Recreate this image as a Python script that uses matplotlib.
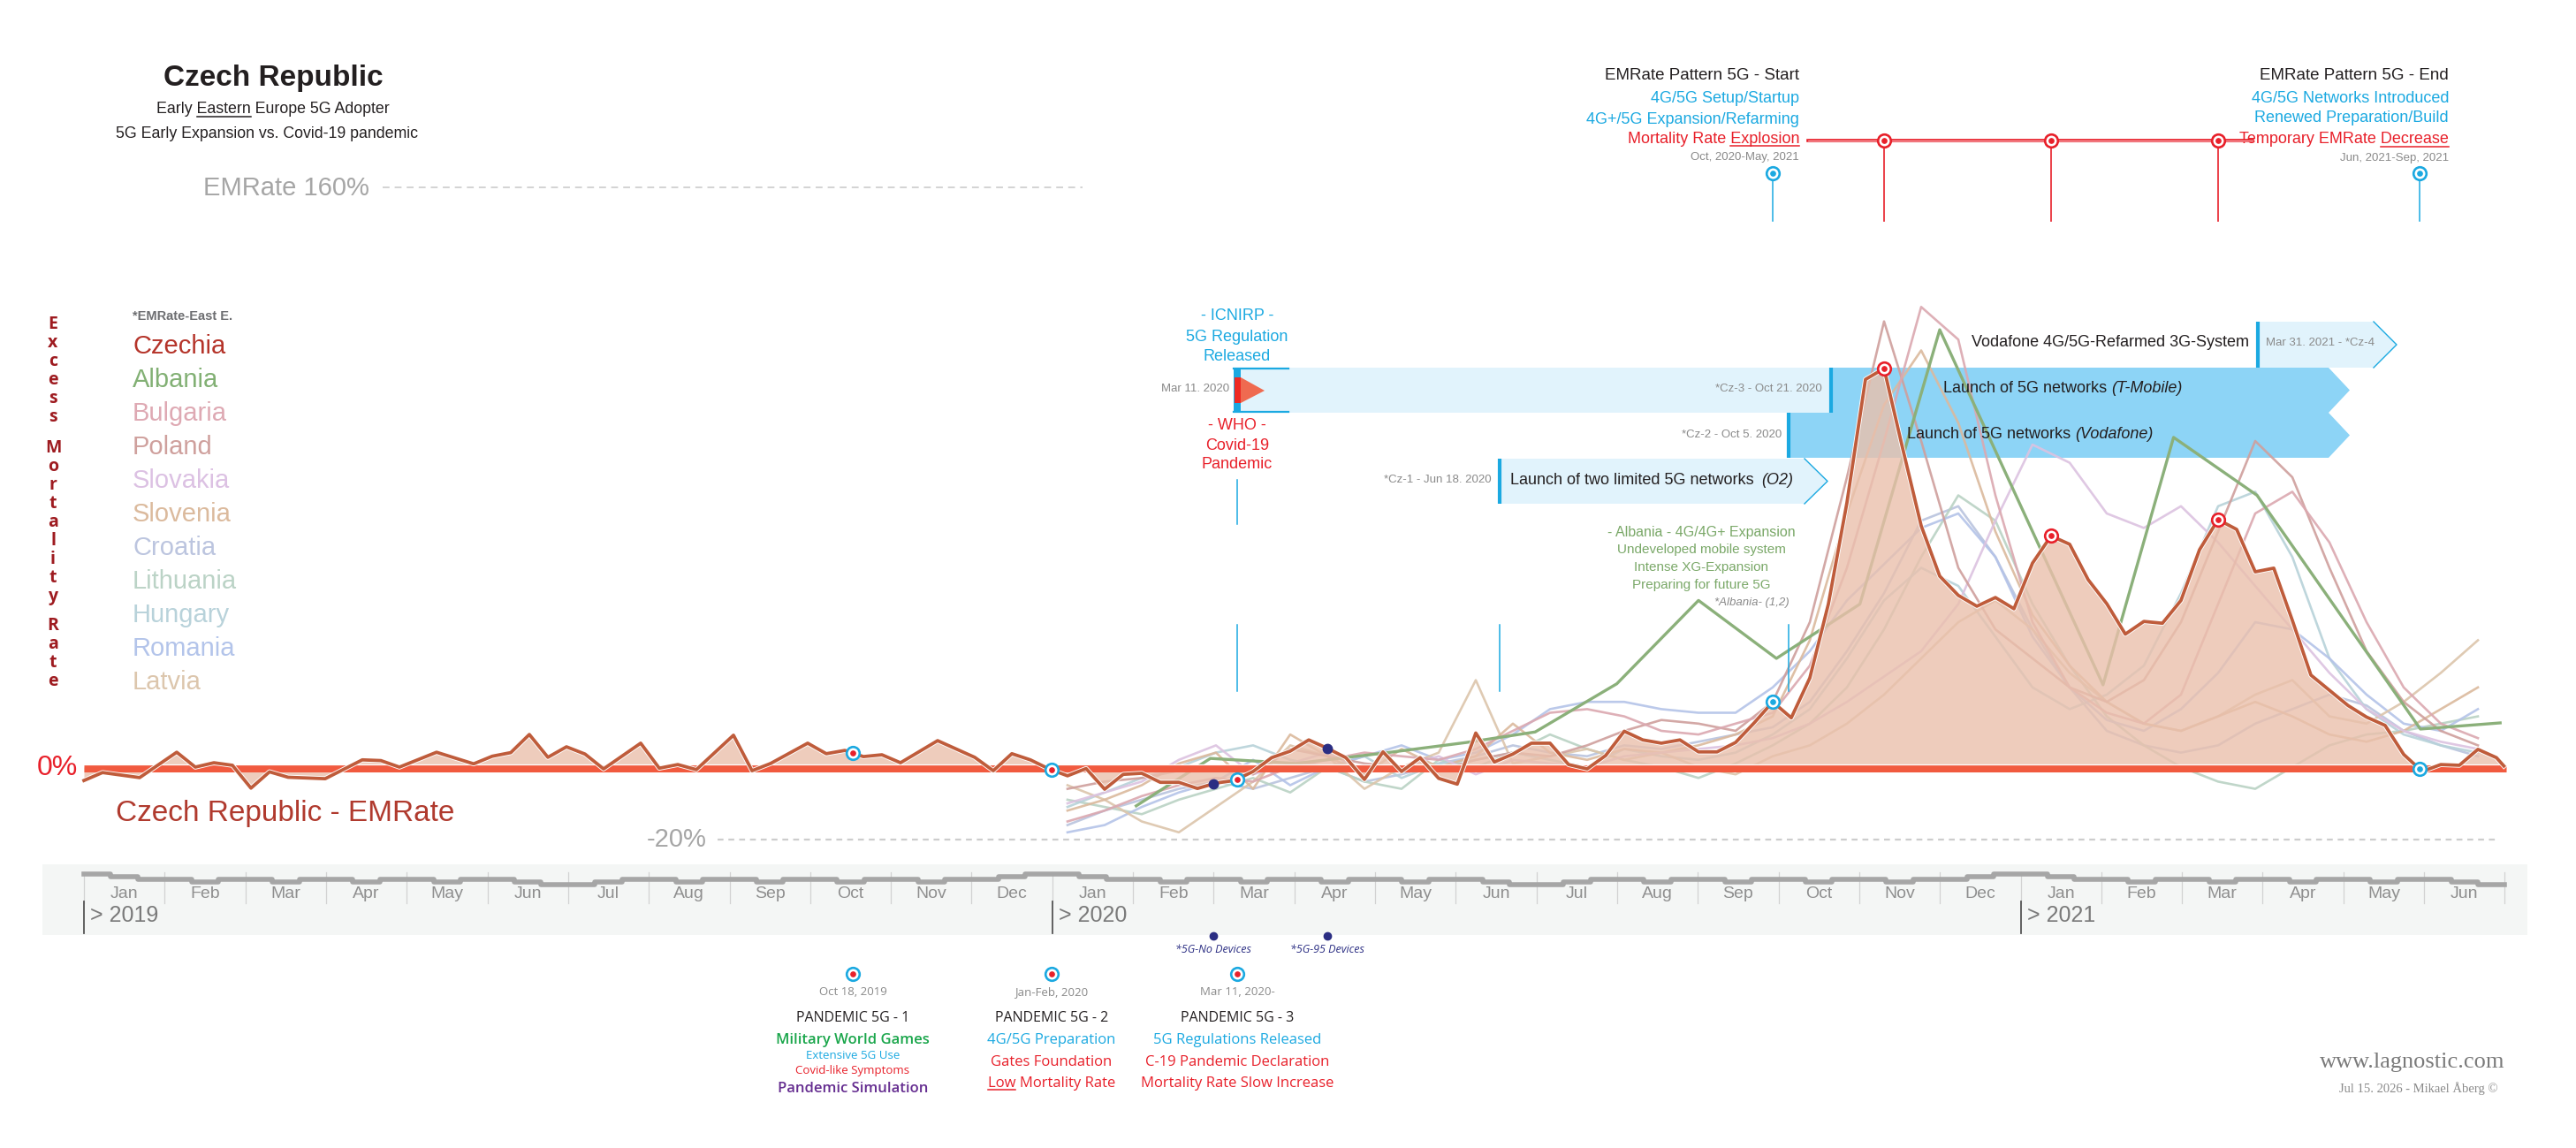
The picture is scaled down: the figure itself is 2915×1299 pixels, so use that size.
import datetime as dt
import numpy as np
import matplotlib
matplotlib.use("Agg")
import matplotlib.pyplot as plt
from matplotlib.patches import Polygon

# ---------------- data ----------------
# x = weeks since Jan 1 2019, y = excess mortality rate in %
czech_weeks = [0, 1, 3, 5, 6, 7, 8, 9, 10, 11, 13, 15, 16, 17, 19, 21, 22, 23, 24, 25,
               26, 27, 28, 30, 31, 32, 33, 35, 36, 37, 39, 40, 41, 42, 43, 44, 46, 48, 49, 50,
               51, 52, 53, 54, 55, 56, 57, 58, 59, 60, 61, 62, 63, 64, 65, 66, 67, 68, 69, 70,
               71, 72, 73, 74, 75, 76, 77, 78, 79, 80, 81, 82, 83, 84, 85, 86, 87, 88, 89, 90,
               91, 92, 93, 94, 95, 96, 97, 98, 99, 100, 101, 102, 103, 104, 105, 106, 107, 108, 109, 110,
               111, 112, 113, 114, 115, 116, 117, 118, 119, 120, 121, 122, 123, 124, 125, 126, 127, 128, 129, 130,
               130.4]
czech_emrate = [-3.7, -1.5, -2.9, 4.1, 0.0, 1.2, 0.5, -5.8, -1.3, -2.8, -3.2, 2.0, 1.8, 0.0, 4.1, 0.9, 3.0, 4.0, 9.0, 2.7,
                5.6, 3.6, -0.5, 6.6, -0.3, 0.7, -0.7, 8.8, -1.0, 1.0, 6.6, 3.7, 4.6, 2.9, 3.4, 1.2, 7.3, 2.7, -1.0, 3.7,
                2.0, -0.5, -2.4, -0.4, -6.1, -2.0, -1.7, -4.2, -4.2, -5.9, -4.4, -3.7, -1.2, 2.6, 4.4, 7.5, 5.2, 2.6, -3.4, 4.2,
                -1.2, 2.6, -3.1, -4.7, 9.4, 1.4, 3.6, 6.6, 6.6, 0.7, -0.5, 3.2, 9.9, 7.5, 6.6, 7.5, 4.2, 4.2, 6.8, 12.2,
                18.0, 13.6, 24.6, 45.0, 73.0, 107.0, 110.0, 88.0, 66.6, 52.7, 47.4, 44.4, 46.8, 43.7, 56.3, 63.8, 61.5, 51.7, 45.1, 36.7,
                40.2, 39.7, 46.0, 60.0, 68.3, 65.6, 53.9, 54.9, 40.5, 25.4, 21.2, 17.0, 13.8, 11.5, 3.5, -1.2, 0.7, 0.5, 4.9, 2.6,
                0.3]

# the other countries, every second week from Jan 2020 to Jun 2021
country_weeks = list(range(53, 131, 2))
bulgaria = [-15, -12, -8, -5, -3, -4, 0, 2, 4, 3, 2, 5, 10, 15, 16, 14, 10, 9, 12, 15,
            28, 55, 90, 127, 118, 75, 40, 22, 15, 12, 20, 45, 70, 76, 62, 40, 22, 12, 8]
poland = [-6, -4, -3, -1, 0, -2, 5, 3, 1, 0, -1, 2, 4, 3, 6, 10, 13, 12, 10, 18,
          40, 80, 123, 90, 55, 38, 30, 22, 18, 24, 40, 65, 90, 80, 55, 32, 18, 10, 6]
slovakia = [-10, -7, -4, 2, 6, -2, 1, 4, -1, 0, 3, -2, 2, 1, 0, 3, 4, 5, 6, 8,
            12, 18, 25, 32, 45, 68, 89, 84, 70, 66, 72, 62, 50, 38, 26, 16, 10, 7, 5]
slovenia = [-12, -9, -5, 1, 4, -6, 9, 3, -2, 5, 0, 3, 12, 4, 2, 5, 4, 6, 9, 14,
            35, 70, 100, 115, 95, 65, 42, 28, 18, 12, 10, 14, 18, 14, 9, 7, 10, 16, 22]
croatia = [-16, -12, -9, -6, -4, -6, -3, 0, -4, -2, 1, 3, 6, 4, 3, 6, 5, 7, 9, 11,
           18, 32, 48, 68, 72, 58, 38, 22, 10, 6, 4, 6, 12, 16, 20, 17, 10, 6, 3]
lithuania = [-9, -11, -13, -9, -6, -3, -7, 0, -4, -6, 2, 0, 4, 9, 5, 2, 0, -3, 1, 6,
             12, 22, 38, 58, 75, 68, 45, 28, 14, 6, 0, -4, -6, 0, 6, 9, 10, 12, 14]
hungary = [-11, -7, -3, 0, 4, 6, 2, 0, 3, -3, 1, 2, 4, 2, 0, 5, 3, 2, 4, 9,
           16, 30, 46, 55, 50, 36, 22, 16, 20, 28, 48, 72, 76, 58, 30, 16, 9, 6, 4]
romania = [-18, -16, -11, -7, -4, 2, -5, 0, 3, 6, 2, 4, 9, 16, 18, 18, 16, 15, 15, 22,
           32, 46, 56, 66, 70, 58, 36, 22, 13, 10, 16, 26, 40, 38, 30, 20, 12, 10, 16]
latvia = [-5, -9, -15, -18, -11, -4, 6, 3, -6, 0, 4, 24, 1, 3, 5, 2, 4, 0, -2, 3,
          6, 12, 20, 30, 40, 46, 38, 26, 18, 12, 10, 14, 20, 24, 14, 12, 18, 26, 35]
# Albania reports monthly
albania_weeks = [56.7, 60.7, 65.3, 70.1, 74.5, 78.2, 82.6, 87.0, 91.2, 95.7, 100.0,
                 108.8, 112.6, 117.1, 125.9, 130.2]
albania = [-10.7, 2.4, 1.0, 3.9, 6.8, 9.7, 23.0, 46.0, 30.0, 45.0, 120.7,
           22.7, 91.0, 75.0, 10.5, 12.2]

legend_names = ["Czechia", "Albania", "Bulgaria", "Poland", "Slovakia", "Slovenia",
                "Croatia", "Lithuania", "Hungary", "Romania", "Latvia"]
legend_colors = ["#b5342a", "#82b074", "#dea9b3", "#cfa09d", "#dcc1e3", "#dbba9d",
                 "#bcc5df", "#bbd3c6", "#b8d2da", "#b3c4ea", "#dcc6ad"]
faint_series = [(croatia, "#b9c4de"), (lithuania, "#b9d2c4"), (hungary, "#b7d2d9"),
                (romania, "#b4c3e8"), (latvia, "#dcc5ab"), (slovenia, "#dbb99d"),
                (slovakia, "#dcc2e0"), (poland, "#cf9f9c"), (bulgaria, "#dba8b0")]

month_names = ["Jan", "Feb", "Mar", "Apr", "May", "Jun",
               "Jul", "Aug", "Sep", "Oct", "Nov", "Dec"]
year_names = ["> 2019", "> 2020", "> 2021"]
# thick grey step line in the time band: level of each third of a month
month_steps = {1: (0, 1, 2), 2: (2, 3, 2), 3: (2, 3, 2), 4: (2, 3, 2), 5: (2, 3, 2),
               6: (2, 3, 4), 7: (4, 3, 2), 8: (2, 3, 2), 9: (2, 3, 2), 10: (2, 3, 2),
               11: (2, 3, 2), 12: (2, 1, 0)}

START = dt.date(2019, 1, 1)
who_day = dt.date(2020, 3, 11)
cz1_day = dt.date(2020, 6, 18)
cz2_day = dt.date(2020, 10, 5)
cz3_day = dt.date(2020, 10, 21)
cz4_day = dt.date(2021, 3, 31)
pattern_start = dt.date(2020, 9, 29)
pattern_end = dt.date(2021, 5, 31)
games_day = dt.date(2019, 10, 18)
year_2020 = dt.date(2020, 1, 1)
no_devices_day = dt.date(2020, 3, 2)
devices_95_day = dt.date(2020, 4, 14)
peak_weeks = [97, 106, 115]


def wk(d):
    return (d - START).days / 7.0


# ---------------- canvas: one axes over the whole figure ----------------
W, H = 2915, 1299
X0, PXW = 95, 21.0        # pixel of week 0 and pixels per week
Y0, PXV = 868, 4.1        # pixel of 0 % and pixels per percent


def px_x(p):
    return (p - X0) / PXW


def px_y(p):
    return (Y0 - p) / PXV


def x_px(w):
    return X0 + w * PXW


fig = plt.figure(figsize=(W / 100, H / 100), dpi=100)
ax = fig.add_axes([0, 0, 1, 1])
ax.set_xlim(px_x(0), px_x(W))
ax.set_ylim(px_y(H), px_y(0))
ax.axis("off")
renderer = fig.canvas.get_renderer()

COND = ["Liberation Sans", "DejaVu Sans"]
ARIAL = ["Liberation Sans", "DejaVu Sans"]
HUMAN = ["Open Sans", "DejaVu Sans"]
SERIF = ["Liberation Serif", "DejaVu Serif"]
CYAN = "#1ba9e1"
RED = "#e8202a"
GREY = "#8a8a8a"
DARK = "#231f20"
LIGHT_BLUE = "#e1f3fc"
MID_BLUE = "#8dd4f6"


def put(xp, yp, s, size, color=DARK, family=COND, ha="center", va="center", **kw):
    return ax.text(px_x(xp), px_y(yp), s, fontsize=size, color=color, family=family,
                   ha=ha, va=va, **kw)


def text_w(s, **kw):
    t = ax.text(0, 0, s + "|", **kw)
    w1 = t.get_window_extent(renderer).width
    t.remove()
    t = ax.text(0, 0, "|", **kw)
    w2 = t.get_window_extent(renderer).width
    t.remove()
    return w1 - w2


def underlined(xp, yp, s, word, size, color, family=COND, ha="center", **kw):
    t = put(xp, yp, s, size, color, family, ha=ha, **kw)
    total = t.get_window_extent(renderer).width
    left = xp - {"left": 0, "center": total / 2, "right": total}[ha]
    i = s.index(word)
    m = dict(fontsize=size, family=family, **kw)
    a = left + (text_w(s[:i], **m) if i else 0)
    b = left + text_w(s[:i + len(word)], **m)
    uy = yp + size * 0.62
    ax.plot([px_x(a), px_x(b)], [px_y(uy)] * 2, color=color, lw=1.1, zorder=12)


def vline(xp, y1, y2, color=CYAN, lw=1.1, z=7):
    ax.plot([px_x(xp)] * 2, [px_y(y1), px_y(y2)], color=color, lw=lw, zorder=z)


def target(w, v, ring=CYAN, dot=RED, z=11):
    ax.plot(w, v, "o", ms=10.5, mfc="white", mec=ring, mew=1.9, zorder=z)
    ax.plot(w, v, "o", ms=3.8, color=dot, zorder=z + 0.1)


def arrow_band(x0, x1, tip, yt, yb, color, edge=None, z=1):
    ym = (yt + yb) / 2
    pts = [(x0, yt), (x1, yt), (tip, ym), (x1, yb), (x0, yb)]
    ax.add_patch(Polygon([(px_x(a), px_y(b)) for a, b in pts], closed=True,
                         fc=color, ec="none", zorder=z))
    if edge:
        ax.plot([px_x(x1), px_x(tip), px_x(x1)], [px_y(yt), px_y(ym), px_y(yb)],
                color=edge, lw=1.0, zorder=z + 0.1)


def left_bar(xp, yt, yb):
    ax.plot([px_x(xp)] * 2, [px_y(yt), px_y(yb)], color=CYAN, lw=3,
            solid_capstyle="butt", zorder=1.5)


def czech_at(w):
    return float(np.interp(w, czech_weeks, czech_emrate))


# ---------------- data marks ----------------
for vals, col in faint_series:
    ax.plot(country_weeks, vals, color=col, lw=1.9, alpha=0.9, zorder=2)
ax.plot(albania_weeks, albania, color="#8bb07a", lw=2.4, zorder=2.5)

ax.fill_between(czech_weeks, czech_emrate, 0, color="#eac0ac", alpha=0.8, lw=0, zorder=3)
ax.plot([0, px_x(2836)], [px_y(869)] * 2, color="#f15a3f", lw=6.5,
        solid_capstyle="butt", zorder=4.5)
ax.plot([0, px_x(2836)], [px_y(865)] * 2, color="white", lw=0.9, zorder=4.6)
ax.plot(czech_weeks, czech_emrate, color="white", lw=4.0, zorder=5.5)
ax.plot(czech_weeks, czech_emrate, color="#bf5c3b", lw=2.7, zorder=6)

# reference levels
ax.plot([px_x(433), px_x(1225)], [160, 160], color="#d3d3d3", lw=1.4,
        ls=(0, (4, 3)), zorder=1)
put(418, 213, "EMRate 160%", 21, "#a6a6a6", ARIAL, ha="right")
ax.plot([px_x(812), px_x(2828)], [-20, -20], color="#cdcdcd", lw=1.6,
        ls=(0, (3, 2.5)), zorder=1)
put(800, 950, "-20%", 21, "#a6a6a6", ARIAL, ha="right")
put(65, 869, "0%", 23, RED, ARIAL)
put(131, 920, "Czech Republic - EMRate", 24, "#b03a2e", ARIAL, ha="left")

# ---------------- title block ----------------
put(309, 89, "Czech Republic", 24, DARK, ARIAL, weight="bold")
underlined(309, 124, "Early Eastern Europe 5G Adopter", "Eastern", 12.8, DARK)
put(302, 152, "5G Early Expansion vs. Covid-19 pandemic", 12.8, DARK)

# legend
put(150, 358, "*EMRate-East E.", 10.5, "#6d6e71", ARIAL, ha="left", weight="bold")
for i, (name, col) in enumerate(zip(legend_names, legend_colors)):
    put(150, 392 + 38 * i, name, 21, col, ARIAL, ha="left")

# vertical axis caption, one letter per row
for word, y_start in (("Excess", 367), ("Mortality", 507), ("Rate", 708)):
    for j, ch in enumerate(word):
        put(60, y_start + 21 * j, ch, 14, "#9e1b20", HUMAN, weight="bold")

# ---------------- time band ----------------
n_months = 30


def month_px(k):
    return X0 + k * (365.25 / 7 / 12) * PXW


ax.add_patch(plt.Rectangle((px_x(48), px_y(1058)), px_x(2860) - px_x(48),
                           px_y(978) - px_y(1058), fc="#f4f6f5", ec="none", zorder=0))
level_px = [989, 992, 995, 998, 1001]
step_x, step_y = [], []
for k in range(n_months):
    for t, lev in enumerate(month_steps[k % 12 + 1]):
        step_x.append(px_x(month_px(k + t / 3)))
        step_y.append(px_y(level_px[lev]))
step_x.append(px_x(month_px(n_months)))
step_y.append(step_y[-1])
ax.step(step_x, step_y, where="post", color="#a6a6a6", lw=4.0, zorder=1)
for k in range(n_months + 1):
    vline(month_px(k), 987, 1022, "#d2d2d2", 0.9, 0.5)
for k in range(n_months):
    put(month_px(k + 0.5), 1012, month_names[k % 12], 14, "#8f8f8f", ARIAL)
for j, name in enumerate(year_names):
    xp = month_px(12 * j)
    vline(xp, 1020, 1056, "#555555", 1.3, 1)
    put(xp + 7, 1036, name, 18, "#7a7a7a", ARIAL, ha="left")

# devices dots
for d, label in ((no_devices_day, "*5G-No Devices"), (devices_95_day, "*5G-95 Devices")):
    w = wk(d)
    ax.plot(w, czech_at(w), "o", ms=7.5, color="#2b2e83", zorder=11)
    ax.plot(w, px_y(1059), "o", ms=6, color="#2b2e83", zorder=11)
    put(x_px(w), 1074, label, 9, "#2b2e83", HUMAN, style="italic")

# markers on the Czech curve
for d in (games_day, year_2020, who_day):
    target(wk(d), czech_at(wk(d)))
for d in (pattern_start, pattern_end):
    target(wk(d), czech_at(wk(d)), CYAN, CYAN)
for w in peak_weeks:
    target(w, czech_at(w), RED, RED)

# ---------------- top right: EMRate pattern ----------------
ax.plot([px_x(2046), px_x(2549)], [px_y(159)] * 2, color=RED, lw=2.6, zorder=7)
ax.plot([px_x(2046), px_x(2549)], [px_y(159)] * 2, color="white", lw=0.5, zorder=7.1)
for w in peak_weeks:
    vline(x_px(w), 159, 250, RED, 1.2)
    target(w, px_y(159), RED, RED)
for d in (pattern_start, pattern_end):
    vline(x_px(wk(d)), 198, 250, CYAN, 1.1)
    target(wk(d), px_y(196), CYAN, CYAN)

put(2036, 86, "EMRate Pattern 5G - Start", 13.5, DARK, ha="right")
put(2036, 112, "4G/5G Setup/Startup", 13, CYAN, ha="right")
put(2036, 135, "4G+/5G Expansion/Refarming", 13, CYAN, ha="right")
underlined(2036, 157, "Mortality Rate Explosion", "Explosion", 13, RED, ha="right")
put(2036, 178, "Oct, 2020-May, 2021", 9.5, GREY, ha="right")
put(2771, 86, "EMRate Pattern 5G - End", 13.5, DARK, ha="right")
put(2771, 112, "4G/5G Networks Introduced", 13, CYAN, ha="right")
put(2771, 134, "Renewed Preparation/Build", 13, CYAN, ha="right")
underlined(2771, 158, "Temporary EMRate Decrease", "Decrease", 13, RED, ha="right")
put(2771, 179, "Jun, 2021-Sep, 2021", 9.5, GREY, ha="right")

# ---------------- 5G launch bands ----------------
xw = x_px(wk(who_day))
x1, x2, x3, x4 = (x_px(wk(d)) for d in (cz1_day, cz2_day, cz3_day, cz4_day))
arrow_band(x4, 2686, 2712, 364, 416, LIGHT_BLUE, CYAN)
arrow_band(xw + 4, x3, x3, 416, 467, LIGHT_BLUE)
arrow_band(x3, 2635, 2659, 416, 467, MID_BLUE)
arrow_band(x2, 2635, 2659, 467, 518, MID_BLUE)
arrow_band(x1, 2042, 2068, 519, 570, LIGHT_BLUE, CYAN)
for xp, yt, yb in ((x4, 364, 416), (x3, 416, 467), (x2, 467, 518), (x1, 519, 570)):
    left_bar(xp, yt, yb)

# WHO / ICNIRP flag
ax.add_patch(plt.Rectangle((px_x(xw - 4), px_y(467)), 8 / PXW, 51 / PXV,
                           fc=CYAN, ec="none", zorder=2))
ax.add_patch(plt.Rectangle((px_x(xw - 3), px_y(456)), 7 / PXW, 29 / PXV,
                           fc="#ee2a24", ec="none", zorder=2.1))
ax.add_patch(Polygon([(px_x(xw + 4), px_y(427)), (px_x(xw + 31), px_y(442)),
                      (px_x(xw + 4), px_y(456))], fc="#ef6a50", ec="none", zorder=2.1))
for yy in (417, 466):
    ax.plot([px_x(xw - 4), px_x(xw + 58)], [px_y(yy)] * 2, color=CYAN, lw=1.6, zorder=2)

put(xw, 358, "- ICNIRP -", 13, CYAN)
put(xw, 381, "5G Regulation", 13, CYAN)
put(xw, 403, "Released", 13, CYAN)
put(xw - 9, 440, "Mar 11. 2020", 9.5, GREY, ha="right")
put(xw, 482, "- WHO -", 13, RED)
put(xw, 504, "Covid-19", 13, RED)
put(xw, 526, "Pandemic", 13, RED)
vline(xw, 543, 593)
for xp in (xw, x1, x2):
    vline(xp, 707, 782)

put(x3 - 10, 440, "*Cz-3 - Oct 21. 2020", 9.5, GREY, ha="right")
put(2389, 440, "Launch of 5G networks ", 13, DARK, ha="right")
put(2389, 440, "(T-Mobile)", 13, DARK, ha="left", style="italic")
put(x2 - 8, 492, "*Cz-2 - Oct 5. 2020", 9.5, GREY, ha="right")
put(2348, 492, "Launch of 5G networks ", 13, DARK, ha="right")
put(2348, 492, "(Vodafone)", 13, DARK, ha="left", style="italic")
put(x1 - 9, 543, "*Cz-1 - Jun 18. 2020", 9.5, GREY, ha="right")
t = put(x1 + 12, 543, "Launch of two limited 5G networks ", 13, DARK, ha="left")
put(x1 + 12 + t.get_window_extent(renderer).width + 4, 543, "(O2)", 13, DARK,
    ha="left", style="italic")
put(x4 - 10, 388, "Vodafone 4G/5G-Refarmed 3G-System", 13, DARK, ha="right")
put(x4 + 9, 388, "Mar 31. 2021 - *Cz-4", 9.5, GREY, ha="left")

# Albania note
ALB = "#7aa868"
put(1925, 602, "- Albania - 4G/4G+ Expansion", 11.5, ALB)
put(1925, 622, "Undeveloped mobile system", 11, ALB)
put(1925, 642, "Intense XG-Expansion", 11, ALB)
put(1925, 662, "Preparing for future 5G", 11, ALB)
put(2025, 682, "*Albania- (1,2)", 9.5, GREY, ha="right", style="italic")

# ---------------- bottom: pandemic 5G phases ----------------
blocks = [
    (games_day, "Oct 18, 2019", "PANDEMIC 5G - 1"),
    (year_2020, "Jan-Feb, 2020", "PANDEMIC 5G - 2"),
    (who_day, "Mar 11, 2020-", "PANDEMIC 5G - 3"),
]
block_x = []
for d, date_txt, head in blocks:
    xp = x_px(wk(d))
    block_x.append(xp)
    target(wk(d), px_y(1102))
    put(xp, 1123, date_txt, 9.5, GREY, HUMAN)
    put(xp, 1152, head, 11.5, DARK, HUMAN)

b1, b2, b3 = block_x
put(b1, 1177, "Military World Games", 12, "#1aa64b", HUMAN, weight="semibold")
put(b1, 1194, "Extensive 5G Use", 9.5, CYAN, HUMAN)
put(b1, 1211, "Covid-like Symptoms", 9.5, RED, HUMAN)
put(b1, 1232, "Pandemic Simulation", 12, "#652d90", HUMAN, weight="semibold")
put(b2, 1177, "4G/5G Preparation", 12, CYAN, HUMAN)
put(b2, 1202, "Gates Foundation", 12, RED, HUMAN)
underlined(b2, 1226, "Low Mortality Rate", "Low", 12, RED, HUMAN)
put(b3, 1177, "5G Regulations Released", 12, CYAN, HUMAN)
put(b3, 1202, "C-19 Pandemic Declaration", 12, RED, HUMAN)
put(b3, 1226, "Mortality Rate Slow Increase", 12, RED, HUMAN)

# signature
put(2730, 1202, "www.lagnostic.com", 19, "#7a7a7a", SERIF)
put(2737, 1232, "Jul 15. 2026 - Mikael Åberg ©", 10.5, "#8a8a8a", SERIF)

fig.savefig("out.png", dpi=100, facecolor="white")
